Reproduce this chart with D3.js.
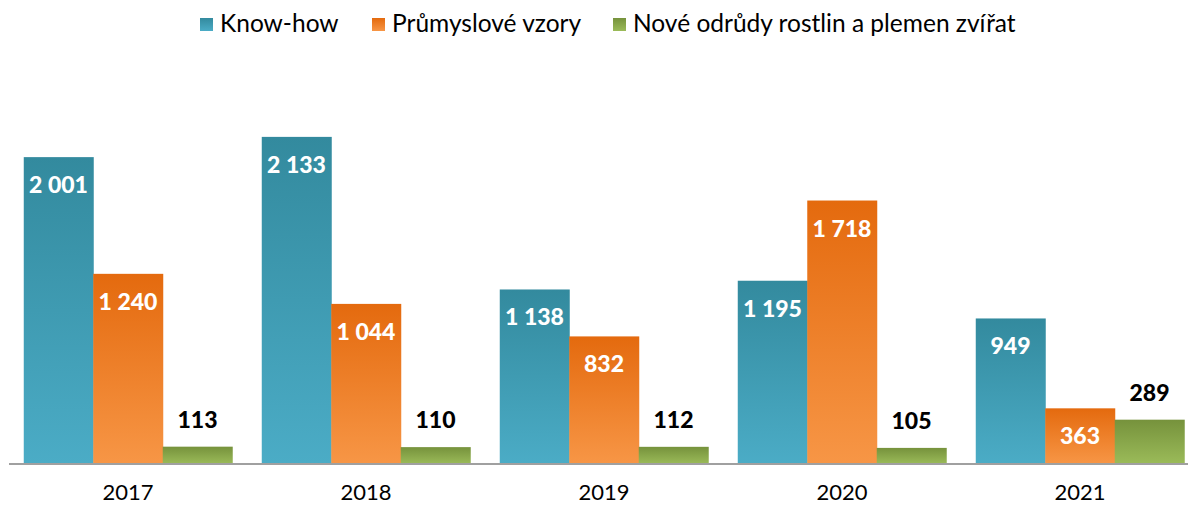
<!DOCTYPE html>
<html><head><meta charset="utf-8">
<script src="https://cdn.jsdelivr.net/npm/d3@7"></script>
<style>html,body{margin:0;padding:0;background:#fff;}svg{display:block;}</style>
</head><body>
<svg id="c" width="1188" height="506"></svg>
<script>
const years = ["2017","2018","2019","2020","2021"];
const seriesNames = ["Know-how","Průmyslové vzory","Nové odrůdy rostlin a plemen zvířat"];
const knowHow = [2001, 2133, 1138, 1195, 949];
const prumysloveVzory = [1240, 1044, 832, 1718, 363];
const noveOdrudy = [113, 110, 112, 105, 289];
const yTicks = [0, 500, 1000, 1500, 2000, 2500];

const seriesValues = [knowHow, prumysloveVzory, noveOdrudy];
const colors = [
  {top:"#338a9e", bottom:"#4bacc6"},
  {top:"#e46a0e", bottom:"#f79646"},
  {top:"#76923c", bottom:"#9bbb59"}
];
const labelInside = [true, true, false];

const svg = d3.select("#c");
const font = "Lato, 'Open Sans', sans-serif";

const defs = svg.append("defs");
colors.forEach((c,i)=>{
  const g = defs.append("linearGradient").attr("id","g"+i).attr("x1",0).attr("y1",0).attr("x2",0).attr("y2",1);
  g.append("stop").attr("offset","0%").attr("stop-color",c.top);
  g.append("stop").attr("offset","100%").attr("stop-color",c.bottom);
});

const baseY = 464;
const x0 = d3.scaleBand().domain(years).range([9, 1199]).paddingInner(0.124).paddingOuter(0.062);
const x1 = d3.scaleBand().domain(d3.range(3)).range([0, x0.bandwidth()]);
const y = d3.scaleLinear().domain([0, d3.max(yTicks)]).range([baseY, 80.6]);

const data = [];
years.forEach((yr,i)=>{
  seriesValues.forEach((vals,s)=>data.push({year:yr, s, v:vals[i]}));
});

svg.append("g").selectAll("rect").data(data).join("rect")
  .attr("x", d=>x0(d.year)+x1(d.s))
  .attr("y", d=>y(d.v))
  .attr("width", x1.bandwidth()+0.5)
  .attr("height", d=>baseY - y(d.v))
  .attr("fill", d=>"url(#g"+d.s+")");

svg.append("g").selectAll("text").data(data).join("text")
  .attr("x", d=>x0(d.year)+x1(d.s)+x1.bandwidth()/2)
  .attr("y", d=> labelInside[d.s] ? y(d.v)+36 : y(d.v)-19)
  .attr("text-anchor","middle")
  .attr("font-family", font).attr("font-weight","900").attr("font-size","23px")
  .attr("fill", d=> labelInside[d.s] ? "#ffffff" : "#000000")
  .text(d=>d3.format(",")(d.v).replace(/,/g," "));

// axis
const xAxis = d3.axisBottom(x0).tickSize(0).tickPadding(0);
const ax = svg.append("g").attr("transform", `translate(0,${baseY})`).call(xAxis);
ax.select(".domain").attr("stroke","#a0a0a0").attr("stroke-width",2).attr("d","M9,0H1199");
ax.selectAll(".tick text").attr("y", 36).attr("dy", null)
  .attr("font-family", font).attr("font-size","22px").attr("fill","#000");

// legend
const legendX = [200, 372, 613];
const lg = svg.append("g");
seriesNames.forEach((n,i)=>{
  lg.append("rect").attr("x", legendX[i]).attr("y", 18).attr("width", 13).attr("height", 13).attr("fill","url(#g"+i+")");
  lg.append("text").attr("x", legendX[i]+20).attr("y", 32)
    .attr("font-family", font).attr("font-size","24.5px").attr("fill","#000").text(n);
});
</script>
</body></html>
